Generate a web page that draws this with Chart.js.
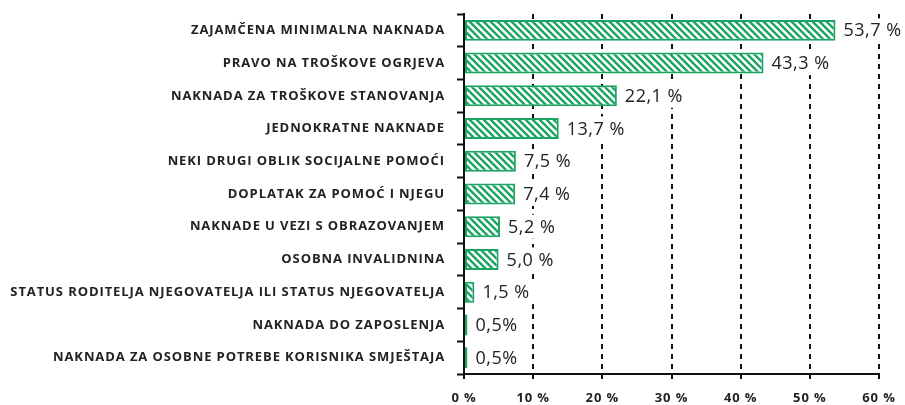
<!DOCTYPE html>
<html>
<head>
    <meta charset="utf-8">
    <title>Korištenje prava iz sustava socijalne skrbi</title>
    <script src="https://cdn.jsdelivr.net/npm/chart.js"></script>
    <style>
        body {
            margin: 0;
            background: #ffffff;
        }
        #chartContainer {
            width: 905px;
            height: 405px;
        }
    </style>
</head>
<body>
    <div id="chartContainer">
        <canvas id="myChart"></canvas>
    </div>

    <script>
        // Categories and shares (%)
        const categories = [
            'ZAJAMČENA MINIMALNA NAKNADA',
            'PRAVO NA TROŠKOVE OGRJEVA',
            'NAKNADA ZA TROŠKOVE STANOVANJA',
            'JEDNOKRATNE NAKNADE',
            'NEKI DRUGI OBLIK SOCIJALNE POMOĆI',
            'DOPLATAK ZA POMOĆ I NJEGU',
            'NAKNADE U VEZI S OBRAZOVANJEM',
            'OSOBNA INVALIDNINA',
            'STATUS RODITELJA NJEGOVATELJA ILI STATUS NJEGOVATELJA',
            'NAKNADA DO ZAPOSLENJA',
            'NAKNADA ZA OSOBNE POTREBE KORISNIKA SMJEŠTAJA'
        ];
        const shares = [53.7, 43.3, 22.1, 13.7, 7.5, 7.4, 5.2, 5.0, 1.5, 0.5, 0.5];
        const shareLabels = ['53,7 %', '43,3 %', '22,1 %', '13,7 %', '7,5 %', '7,4 %', '5,2 %', '5,0 %', '1,5 %', '0,5%', '0,5%'];
        const xTicks = [0, 10, 20, 30, 40, 50, 60];

        const green = '#1ba462';

        // diagonal hatch fill for the bars
        function hatchPattern() {
            const size = 7;
            const c = document.createElement('canvas');
            c.width = size;
            c.height = size;
            const g = c.getContext('2d');
            g.fillStyle = '#ffffff';
            g.fillRect(0, 0, size, size);
            g.strokeStyle = green;
            g.lineWidth = 2.4;
            g.beginPath();
            g.moveTo(-size, -size); g.lineTo(size * 2, size * 2);
            g.moveTo(-size, 0); g.lineTo(size, size * 2);
            g.moveTo(0, -size); g.lineTo(size * 2, size);
            g.stroke();
            return g.createPattern(c, 'repeat');
        }

        // a bit of tracking on the axis text
        const spacing = {
            id: 'spacing',
            beforeDraw(chart) {
                chart.ctx.letterSpacing = '0.9px';
            }
        };

        // value labels with a white box behind them
        const valueLabels = {
            id: 'valueLabels',
            afterDatasetsDraw(chart) {
                const ctx = chart.ctx;
                const meta = chart.getDatasetMeta(0);
                ctx.save();
                ctx.letterSpacing = '0.5px';
                ctx.font = '18px "Open Sans", sans-serif';
                ctx.textBaseline = 'middle';
                ctx.textAlign = 'left';
                meta.data.forEach((bar, i) => {
                    const text = shareLabels[i];
                    const x = bar.x + 8;
                    const w = ctx.measureText(text).width;
                    ctx.fillStyle = '#ffffff';
                    ctx.fillRect(x - 3, bar.y - 12, w + 8, 24);
                    ctx.fillStyle = '#222222';
                    ctx.fillText(text, x, bar.y + 1);
                });
                ctx.restore();
            }
        };

        const config = {
            type: 'bar',
            data: {
                labels: categories,
                datasets: [{
                    data: shares,
                    backgroundColor: hatchPattern(),
                    borderColor: green,
                    borderWidth: 2,
                    borderSkipped: false,
                    categoryPercentage: 1,
                    barPercentage: 0.64
                }]
            },
            options: {
                indexAxis: 'y',
                responsive: true,
                maintainAspectRatio: false,
                animation: false,
                layout: {
                    padding: { top: 14, right: 25, left: 0, bottom: 0 }
                },
                plugins: {
                    legend: { display: false },
                    tooltip: { enabled: false }
                },
                scales: {
                    x: {
                        min: 0,
                        max: 60,
                        afterBuildTicks(scale) {
                            scale.ticks = xTicks.map(v => ({ value: v }));
                        },
                        afterFit(scale) {
                            scale.height = 31;
                        },
                        ticks: {
                            color: '#222222',
                            padding: 11,
                            font: { family: '"Open Sans", sans-serif', size: 13, weight: 'bold' },
                            callback: v => v + ' %'
                        },
                        grid: {
                            color: '#111111',
                            lineWidth: 2,
                            tickLength: 5,
                            tickColor: '#111111',
                            tickWidth: 2
                        },
                        border: {
                            display: true,
                            color: '#111111',
                            width: 2,
                            dash: [5, 5]
                        }
                    },
                    y: {
                        afterFit(scale) {
                            scale.width = 464;
                            scale.paddingTop = 0;
                            scale.paddingBottom = 0;
                        },
                        ticks: {
                            color: '#222222',
                            padding: 12,
                            font: { family: '"Open Sans", sans-serif', size: 13, weight: 'bold' }
                        },
                        grid: {
                            drawOnChartArea: false,
                            tickLength: 7,
                            tickColor: '#111111',
                            tickWidth: 2
                        },
                        border: {
                            display: true,
                            color: '#111111',
                            width: 2
                        }
                    }
                }
            },
            plugins: [spacing, valueLabels]
        };

        const ctx = document.getElementById('myChart').getContext('2d');
        const myChart = new Chart(ctx, config);
    </script>
</body>
</html>
